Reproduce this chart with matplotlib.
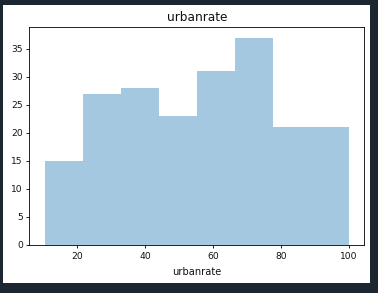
import matplotlib
matplotlib.use("Agg")
import matplotlib.pyplot as plt
from matplotlib.patches import Rectangle
import numpy as np

# Data
bin_edges = [10.4, 21.6, 32.8, 44.0, 55.2, 66.4, 77.6, 88.8, 100.0]
counts = [15, 27, 28, 23, 31, 37, 21, 21]
title = "urbanrate"
xlabel = "urbanrate"

W, H = 378, 293
dpi = 100
fig = plt.figure(figsize=(W / dpi, H / dpi), dpi=dpi, facecolor="#1b2631")

# white figure area
fig.patches.append(Rectangle((2.5 / W, 1 - 283 / H), (370 - 2.5) / W, (283 - 5) / H,
                             transform=fig.transFigure, facecolor="white",
                             edgecolor="none", zorder=-10))

l, r, t, b = 29.3, 364.3, 27.3, 245
ax = fig.add_axes([l / W, 1 - b / H, (r - l) / W, (b - t) / H])
ax.set_zorder(1)
ax.hist(bin_edges[:-1], bins=bin_edges, weights=counts, color="C0", alpha=0.4)

fs = 6.6
ax.set_title(title, fontsize=8.7, pad=4.5, color="#111111")
ax.set_xlabel(xlabel, fontsize=7.1, labelpad=4.8, color="#111111")
ax.tick_params(labelsize=fs, length=2.5, width=0.6, pad=2.2, labelcolor="#111111")
for s in ax.spines.values():
    s.set_linewidth(0.6)
ax.set_xticks([20, 40, 60, 80, 100])
ax.set_yticks([0, 5, 10, 15, 20, 25, 30, 35])

fig.savefig("out.png", dpi=dpi, facecolor=fig.get_facecolor())
